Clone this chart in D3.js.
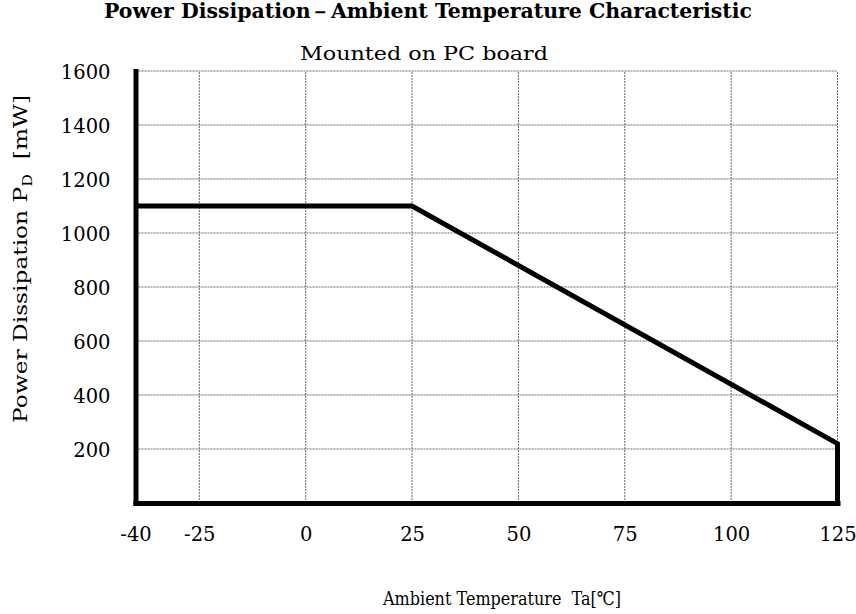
<!DOCTYPE html>
<html>
<head>
<meta charset="utf-8">
<script src="https://cdn.jsdelivr.net/npm/d3@7"></script>
<style>
  html, body { margin: 0; padding: 0; background: #fff; }
  svg { display: block; }
  text { font-family: "DejaVu Serif", "Liberation Serif", serif; fill: #000; }
</style>
</head>
<body>
<svg id="chart" width="856" height="614"></svg>
<script>
// Data
const temperatures = [-40, 25, 125, 125];
const powerValues = [1100, 1100, 220, 0];
const xTickValues = [-40, -25, 0, 25, 50, 75, 100, 125];
const yTickValues = [200, 400, 600, 800, 1000, 1200, 1400, 1600];
const xGridValues = [-25, 0, 25, 50, 75, 100, 125];
const yGridValues = [200, 400, 600, 800, 1000, 1200, 1400, 1600];
const titleText = "Power Dissipation－Ambient Temperature Characteristic";
const subtitleText = "Mounted on PC board";
const xTitleText = "Ambient Temperature\u00a0\u00a0Ta[℃]";

const svg = d3.select("#chart");
const margin = { left: 135.5, right: 856 - 837.5, top: 71, bottom: 614 - 503 };
const x = d3.scaleLinear().domain([-40, 125]).range([margin.left, 856 - margin.right]);
const y = d3.scaleLinear().domain([0, 1600]).range([614 - margin.bottom, margin.top]);

// gridlines
const grid = svg.append("g");
grid.selectAll("line.v").data(xGridValues).join("line")
  .attr("x1", d => x(d)).attr("x2", d => x(d))
  .attr("y1", y(0)).attr("y2", y(1600))
  .attr("stroke", "#666").attr("stroke-width", 1).attr("stroke-dasharray", "2,1");
grid.selectAll("line.h").data(yGridValues).join("line")
  .attr("x1", x(-40)).attr("x2", x(125))
  .attr("y1", d => y(d)).attr("y2", d => y(d))
  .attr("stroke", "#666").attr("stroke-width", 1).attr("stroke-dasharray", "2,1");

// axes
const fmt = d => String(d);
const xAxis = svg.append("g").attr("transform", `translate(0,${y(0)})`)
  .call(d3.axisBottom(x).tickValues(xTickValues).tickSize(0).tickPadding(24).tickFormat(fmt));
const yAxis = svg.append("g").attr("transform", `translate(${x(-40)},0)`)
  .call(d3.axisLeft(y).tickValues(yTickValues).tickSize(0).tickPadding(25).tickFormat(fmt));
[xAxis, yAxis].forEach(a => {
  a.attr("font-family", null).attr("font-size", null);
  a.select(".domain").attr("stroke", "#000").attr("stroke-width", 5).attr("stroke-linecap", "square");
  a.selectAll("text").attr("font-family", "DejaVu Serif").attr("font-size", 19.5).attr("fill", "#000");
});
yAxis.selectAll("text").attr("dy", "0.36em");

// data line
const line = d3.line().x((d, i) => x(temperatures[i])).y(d => y(d));
svg.append("path").datum(powerValues)
  .attr("d", line)
  .attr("fill", "none").attr("stroke", "#000").attr("stroke-width", 5)
  .attr("stroke-linejoin", "miter");

// titles
svg.append("text").attr("x", 428).attr("y", 18).attr("text-anchor", "middle")
  .attr("font-size", 20).attr("font-weight", "bold")
  .attr("textLength", 648).attr("lengthAdjust", "spacingAndGlyphs")
  .text(titleText);
svg.append("text").attr("x", 424).attr("y", 60).attr("text-anchor", "middle")
  .attr("font-size", 19)
  .attr("textLength", 248).attr("lengthAdjust", "spacingAndGlyphs")
  .text(subtitleText);
svg.append("text").attr("x", 502).attr("y", 605).attr("text-anchor", "middle")
  .attr("font-size", 19)
  .attr("textLength", 238).attr("lengthAdjust", "spacingAndGlyphs")
  .text(xTitleText);

const yt = svg.append("text").attr("transform", "translate(27,259) rotate(-90)")
  .attr("text-anchor", "middle").attr("font-size", 19)
  .attr("textLength", 328).attr("lengthAdjust", "spacingAndGlyphs");
yt.append("tspan").text("Power Dissipation P");
yt.append("tspan").attr("font-size", 13).attr("dy", 5).text("D");
yt.append("tspan").attr("dy", -5).text("\u00a0\u00a0[mW]");
</script>
</body>
</html>
